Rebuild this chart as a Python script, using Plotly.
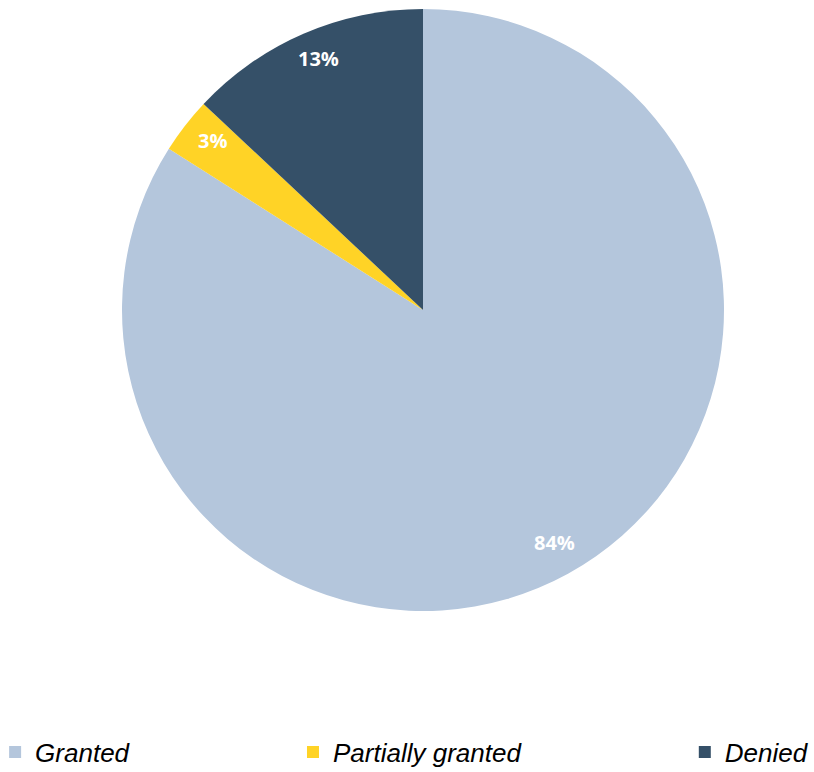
import math
import plotly.graph_objects as go

labels = ["Granted", "Partially granted", "Denied"]
values = [84, 3, 13]
colors = ["#B4C6DC", "#FFD326", "#355068"]
pad_counts = [22, 22, 0]  # trailing spacing in legend entries

W, H = 814, 772
cx, cy, R = 423, 310, 301
top_m, bot_m = cy - R, H - (cy + R)
plot_h = H - top_m - bot_m

fig = go.Figure()
fig.add_trace(go.Pie(
    labels=[l + "\u00a0" * n for l, n in zip(labels, pad_counts)],
    values=values,
    marker=dict(colors=colors, line=dict(width=0)),
    sort=False,
    direction="clockwise",
    rotation=0,
    textinfo="none",
    hoverinfo="label+percent",
    domain=dict(x=[(cx - R) / W, (cx + R) / W], y=[0, 1]),
))

# percentage labels placed near the outer rim, at each slice's mid-angle
total = sum(values)
acc = 0
for v in values:
    mid = (acc + v / 2) / total * 2 * math.pi
    acc += v
    px = cx + 0.895 * R * math.sin(mid) + 2
    py = cy - 0.895 * R * math.cos(mid) - 4
    fig.add_annotation(
        x=px / W, y=(H - bot_m - py) / plot_h, xref="paper", yref="paper",
        xanchor="center", yanchor="middle",
        text=f"<b>{round(v / total * 100)}%</b>", showarrow=False,
        font=dict(family="Open Sans", size=20, color="white"),
    )

fig.update_layout(
    width=W, height=H,
    margin=dict(l=0, r=0, t=top_m, b=bot_m, autoexpand=False),
    paper_bgcolor="white", plot_bgcolor="white",
    showlegend=True,
    legend=dict(
        orientation="h", x=-0.006, xanchor="left",
        y=-(752 - (H - bot_m)) / plot_h, yanchor="middle",
        font=dict(family="Liberation Sans", size=26, color="black", style="italic"),
        bgcolor="rgba(0,0,0,0)",
    ),
)

fig.write_html("out.html")
